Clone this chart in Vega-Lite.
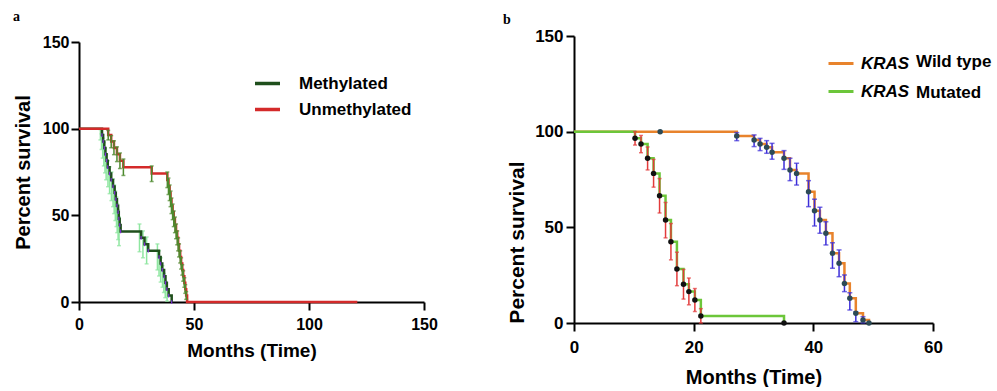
{
  "$schema": "https://vega.github.io/schema/vega-lite/v6.json",
  "background": "white",
  "padding": {"left": 13, "top": 10, "right": 0, "bottom": 0},
  "spacing": 150,
  "bounds": "flush",
  "config": {
    "view": {"stroke": null},
    "axis": {
      "grid": false,
      "domainColor": "black",
      "domainWidth": 2,
      "tickColor": "black",
      "tickWidth": 2,
      "tickSize": 8,
      "labelFont": "Liberation Sans",
      "labelFontWeight": "bold",
      "labelColor": "black",
      "labelFlush": false,
      "labelOverlap": false,
      "titleFont": "Liberation Sans",
      "titleFontWeight": "bold",
      "titleColor": "black"
    },
    "title": {"font": "Liberation Serif", "fontWeight": "bold", "fontSize": 14, "color": "black", "anchor": "start", "frame": "group"}
  },
  "datasets": {
    "a_line": [
      {"series": "Methylated", "t": 0, "y": 100},
      {"series": "Methylated", "t": 10, "y": 96.3},
      {"series": "Methylated", "t": 10.5, "y": 92.6},
      {"series": "Methylated", "t": 11, "y": 88.9},
      {"series": "Methylated", "t": 11.5, "y": 85.2},
      {"series": "Methylated", "t": 12, "y": 81.5},
      {"series": "Methylated", "t": 12.5, "y": 77.8},
      {"series": "Methylated", "t": 13.3, "y": 74.1},
      {"series": "Methylated", "t": 14, "y": 70.4},
      {"series": "Methylated", "t": 14.8, "y": 66.7},
      {"series": "Methylated", "t": 15.5, "y": 63},
      {"series": "Methylated", "t": 16, "y": 59.3},
      {"series": "Methylated", "t": 16.5, "y": 55.6},
      {"series": "Methylated", "t": 17, "y": 51.9},
      {"series": "Methylated", "t": 17.3, "y": 48.1},
      {"series": "Methylated", "t": 17.7, "y": 44.4},
      {"series": "Methylated", "t": 18.1, "y": 40.7},
      {"series": "Methylated", "t": 27, "y": 37},
      {"series": "Methylated", "t": 28.5, "y": 33.3},
      {"series": "Methylated", "t": 30.1, "y": 29.6},
      {"series": "Methylated", "t": 34.8, "y": 25.9},
      {"series": "Methylated", "t": 35.5, "y": 22.2},
      {"series": "Methylated", "t": 36.2, "y": 18.5},
      {"series": "Methylated", "t": 37, "y": 14.8},
      {"series": "Methylated", "t": 37.6, "y": 11.1},
      {"series": "Methylated", "t": 38.2, "y": 7.4},
      {"series": "Methylated", "t": 39, "y": 3.7},
      {"series": "Methylated", "t": 40.3, "y": 0},
      {"series": "Unmethylated", "t": 0, "y": 100},
      {"series": "Unmethylated", "t": 12.7, "y": 96.3},
      {"series": "Unmethylated", "t": 14, "y": 92.6},
      {"series": "Unmethylated", "t": 15.2, "y": 88.9},
      {"series": "Unmethylated", "t": 16.5, "y": 85.2},
      {"series": "Unmethylated", "t": 17.8, "y": 81.5},
      {"series": "Unmethylated", "t": 19.3, "y": 77.8},
      {"series": "Unmethylated", "t": 31.6, "y": 74.1},
      {"series": "Unmethylated", "t": 38.4, "y": 70.4},
      {"series": "Unmethylated", "t": 38.9, "y": 66.7},
      {"series": "Unmethylated", "t": 39.4, "y": 63},
      {"series": "Unmethylated", "t": 39.8, "y": 59.3},
      {"series": "Unmethylated", "t": 40.2, "y": 55.6},
      {"series": "Unmethylated", "t": 40.7, "y": 51.9},
      {"series": "Unmethylated", "t": 41.2, "y": 48.1},
      {"series": "Unmethylated", "t": 41.7, "y": 44.4},
      {"series": "Unmethylated", "t": 42.2, "y": 40.7},
      {"series": "Unmethylated", "t": 42.7, "y": 37},
      {"series": "Unmethylated", "t": 43.1, "y": 33.3},
      {"series": "Unmethylated", "t": 43.5, "y": 29.6},
      {"series": "Unmethylated", "t": 44, "y": 25.9},
      {"series": "Unmethylated", "t": 44.4, "y": 22.2},
      {"series": "Unmethylated", "t": 44.9, "y": 18.5},
      {"series": "Unmethylated", "t": 45.3, "y": 14.8},
      {"series": "Unmethylated", "t": 45.8, "y": 11.1},
      {"series": "Unmethylated", "t": 46.2, "y": 7.4},
      {"series": "Unmethylated", "t": 46.6, "y": 3.7},
      {"series": "Unmethylated", "t": 47, "y": 0},
      {"series": "Unmethylated", "t": 121, "y": 0}
    ],
    "a_err": [
      {"series": "Methylated", "t": 9.3, "y": 93.5, "y2": 99.5},
      {"series": "Methylated", "t": 9.8, "y": 88, "y2": 97},
      {"series": "Methylated", "t": 10.3, "y": 83, "y2": 94.5},
      {"series": "Methylated", "t": 10.8, "y": 78.5, "y2": 92},
      {"series": "Methylated", "t": 11.3, "y": 74.5, "y2": 88.5},
      {"series": "Methylated", "t": 11.8, "y": 70.5, "y2": 85},
      {"series": "Methylated", "t": 12.6, "y": 66.5, "y2": 81.5},
      {"series": "Methylated", "t": 13.3, "y": 62.5, "y2": 78},
      {"series": "Methylated", "t": 14.1, "y": 58.5, "y2": 75},
      {"series": "Methylated", "t": 14.8, "y": 55, "y2": 71},
      {"series": "Methylated", "t": 15.3, "y": 51, "y2": 67.5},
      {"series": "Methylated", "t": 15.8, "y": 47, "y2": 64},
      {"series": "Methylated", "t": 16.3, "y": 43.5, "y2": 60.5},
      {"series": "Methylated", "t": 16.6, "y": 40, "y2": 56.5},
      {"series": "Methylated", "t": 17, "y": 36, "y2": 53},
      {"series": "Methylated", "t": 17.4, "y": 32.5, "y2": 49},
      {"series": "Methylated", "t": 26.3, "y": 29, "y2": 45},
      {"series": "Methylated", "t": 27.8, "y": 25.5, "y2": 41},
      {"series": "Methylated", "t": 29.4, "y": 22, "y2": 37.5},
      {"series": "Methylated", "t": 34.1, "y": 18.5, "y2": 33.5},
      {"series": "Methylated", "t": 34.8, "y": 15, "y2": 29.5},
      {"series": "Methylated", "t": 35.5, "y": 11.5, "y2": 25.5},
      {"series": "Methylated", "t": 36.3, "y": 8.5, "y2": 21},
      {"series": "Methylated", "t": 36.9, "y": 5.5, "y2": 16.5},
      {"series": "Methylated", "t": 37.5, "y": 2.5, "y2": 12},
      {"series": "Methylated", "t": 38.3, "y": 0.5, "y2": 7},
      {"series": "Unmethylated", "t": 12.7, "y": 93.5, "y2": 99},
      {"series": "Unmethylated", "t": 14, "y": 89, "y2": 96},
      {"series": "Unmethylated", "t": 15.2, "y": 85, "y2": 93},
      {"series": "Unmethylated", "t": 16.5, "y": 81, "y2": 89.5},
      {"series": "Unmethylated", "t": 17.8, "y": 77, "y2": 86},
      {"series": "Unmethylated", "t": 19.3, "y": 73, "y2": 82.5},
      {"series": "Unmethylated", "t": 31.6, "y": 69.5, "y2": 78.5},
      {"series": "Unmethylated", "t": 38.4, "y": 66, "y2": 75},
      {"series": "Unmethylated", "t": 38.9, "y": 62, "y2": 71.5},
      {"series": "Unmethylated", "t": 39.4, "y": 58.5, "y2": 67.5},
      {"series": "Unmethylated", "t": 39.8, "y": 55, "y2": 64},
      {"series": "Unmethylated", "t": 40.2, "y": 51, "y2": 60},
      {"series": "Unmethylated", "t": 40.7, "y": 47.5, "y2": 56.5},
      {"series": "Unmethylated", "t": 41.2, "y": 43.5, "y2": 52.5},
      {"series": "Unmethylated", "t": 41.7, "y": 40, "y2": 49},
      {"series": "Unmethylated", "t": 42.2, "y": 36.5, "y2": 45},
      {"series": "Unmethylated", "t": 42.7, "y": 33, "y2": 41},
      {"series": "Unmethylated", "t": 43.1, "y": 29.5, "y2": 37},
      {"series": "Unmethylated", "t": 43.5, "y": 26, "y2": 33.5},
      {"series": "Unmethylated", "t": 44, "y": 22.5, "y2": 29.5},
      {"series": "Unmethylated", "t": 44.4, "y": 19, "y2": 25.5},
      {"series": "Unmethylated", "t": 44.9, "y": 15.5, "y2": 21.5},
      {"series": "Unmethylated", "t": 45.3, "y": 12, "y2": 18},
      {"series": "Unmethylated", "t": 45.8, "y": 8.5, "y2": 14},
      {"series": "Unmethylated", "t": 46.2, "y": 5, "y2": 10},
      {"series": "Unmethylated", "t": 46.6, "y": 1.5, "y2": 6}
    ],
    "b_line": [
      {"series": "KRAS Wild type", "t": 0, "y": 100},
      {"series": "KRAS Wild type", "t": 27.2, "y": 97.7},
      {"series": "KRAS Wild type", "t": 30.1, "y": 95.6},
      {"series": "KRAS Wild type", "t": 31.1, "y": 93.6},
      {"series": "KRAS Wild type", "t": 32.2, "y": 91.8},
      {"series": "KRAS Wild type", "t": 33.1, "y": 89.2},
      {"series": "KRAS Wild type", "t": 35.1, "y": 86.1},
      {"series": "KRAS Wild type", "t": 36.1, "y": 80},
      {"series": "KRAS Wild type", "t": 37.2, "y": 78.2},
      {"series": "KRAS Wild type", "t": 39.2, "y": 68.6},
      {"series": "KRAS Wild type", "t": 40.2, "y": 58.7},
      {"series": "KRAS Wild type", "t": 41.1, "y": 53.8},
      {"series": "KRAS Wild type", "t": 42.1, "y": 46.9},
      {"series": "KRAS Wild type", "t": 43.2, "y": 36.4},
      {"series": "KRAS Wild type", "t": 44.3, "y": 31.2},
      {"series": "KRAS Wild type", "t": 45.2, "y": 20.7},
      {"series": "KRAS Wild type", "t": 46.1, "y": 12.9},
      {"series": "KRAS Wild type", "t": 47.1, "y": 5.1},
      {"series": "KRAS Wild type", "t": 48.3, "y": 1.6},
      {"series": "KRAS Wild type", "t": 49.3, "y": 0},
      {"series": "KRAS Mutated", "t": 0, "y": 100},
      {"series": "KRAS Mutated", "t": 10.2, "y": 96.5},
      {"series": "KRAS Mutated", "t": 11.2, "y": 93.6},
      {"series": "KRAS Mutated", "t": 12.3, "y": 86.1},
      {"series": "KRAS Mutated", "t": 13.3, "y": 78.2},
      {"series": "KRAS Mutated", "t": 14.3, "y": 66.5},
      {"series": "KRAS Mutated", "t": 15.3, "y": 53.8},
      {"series": "KRAS Mutated", "t": 16.2, "y": 42.5},
      {"series": "KRAS Mutated", "t": 17.2, "y": 28.2},
      {"series": "KRAS Mutated", "t": 18.3, "y": 20.2},
      {"series": "KRAS Mutated", "t": 19.2, "y": 16.4},
      {"series": "KRAS Mutated", "t": 20.2, "y": 12},
      {"series": "KRAS Mutated", "t": 21.2, "y": 3.7},
      {"series": "KRAS Mutated", "t": 35.1, "y": 0}
    ],
    "b_err": [
      {"series": "KRAS Wild type", "t": 27.2, "y": 95.3, "y2": 99.5},
      {"series": "KRAS Wild type", "t": 30.1, "y": 92.2, "y2": 98.3},
      {"series": "KRAS Wild type", "t": 31.1, "y": 90.1, "y2": 96.5},
      {"series": "KRAS Wild type", "t": 32.2, "y": 88.7, "y2": 95.3},
      {"series": "KRAS Wild type", "t": 33.1, "y": 85.6, "y2": 93.9},
      {"series": "KRAS Wild type", "t": 35.1, "y": 80.3, "y2": 90.1},
      {"series": "KRAS Wild type", "t": 36.1, "y": 74.4, "y2": 86.1},
      {"series": "KRAS Wild type", "t": 37.2, "y": 72.1, "y2": 83.5},
      {"series": "KRAS Wild type", "t": 39.2, "y": 60.8, "y2": 74.4},
      {"series": "KRAS Wild type", "t": 40.2, "y": 50.7, "y2": 64.7},
      {"series": "KRAS Wild type", "t": 41.1, "y": 46.9, "y2": 60.5},
      {"series": "KRAS Wild type", "t": 42.1, "y": 40.8, "y2": 52.9},
      {"series": "KRAS Wild type", "t": 43.2, "y": 28.6, "y2": 42},
      {"series": "KRAS Wild type", "t": 44.3, "y": 24.2, "y2": 38.2},
      {"series": "KRAS Wild type", "t": 45.2, "y": 16.4, "y2": 25.1},
      {"series": "KRAS Wild type", "t": 46.1, "y": 6.8, "y2": 15.8},
      {"series": "KRAS Wild type", "t": 47.1, "y": 0.7, "y2": 5.9},
      {"series": "KRAS Wild type", "t": 48.3, "y": 0, "y2": 3.3},
      {"series": "KRAS Mutated", "t": 10.2, "y": 93, "y2": 100},
      {"series": "KRAS Mutated", "t": 11.2, "y": 89, "y2": 98},
      {"series": "KRAS Mutated", "t": 12.3, "y": 80, "y2": 92},
      {"series": "KRAS Mutated", "t": 13.3, "y": 71, "y2": 85.5},
      {"series": "KRAS Mutated", "t": 14.3, "y": 57.5, "y2": 75.5},
      {"series": "KRAS Mutated", "t": 15.3, "y": 44.5, "y2": 63},
      {"series": "KRAS Mutated", "t": 16.2, "y": 33, "y2": 52},
      {"series": "KRAS Mutated", "t": 17.2, "y": 19.5, "y2": 37},
      {"series": "KRAS Mutated", "t": 18.3, "y": 12.5, "y2": 28},
      {"series": "KRAS Mutated", "t": 19.2, "y": 9.5, "y2": 23.5},
      {"series": "KRAS Mutated", "t": 20.2, "y": 6, "y2": 18},
      {"series": "KRAS Mutated", "t": 21.2, "y": 0, "y2": 7.5}
    ],
    "b_dot": [
      {"series": "KRAS Wild type", "kind": "Wild type", "t": 14.4, "y": 100},
      {"series": "KRAS Wild type", "kind": "Wild type", "t": 27.2, "y": 97.7},
      {"series": "KRAS Wild type", "kind": "Wild type", "t": 30.1, "y": 95.6},
      {"series": "KRAS Wild type", "kind": "Wild type", "t": 31.1, "y": 93.6},
      {"series": "KRAS Wild type", "kind": "Wild type", "t": 32.2, "y": 91.8},
      {"series": "KRAS Wild type", "kind": "Wild type", "t": 33.1, "y": 89.2},
      {"series": "KRAS Wild type", "kind": "Wild type", "t": 35.1, "y": 86.1},
      {"series": "KRAS Wild type", "kind": "Wild type", "t": 36.1, "y": 80},
      {"series": "KRAS Wild type", "kind": "Wild type", "t": 37.2, "y": 78.2},
      {"series": "KRAS Wild type", "kind": "Wild type", "t": 39.2, "y": 68.6},
      {"series": "KRAS Wild type", "kind": "Wild type", "t": 40.2, "y": 58.7},
      {"series": "KRAS Wild type", "kind": "Wild type", "t": 41.1, "y": 53.8},
      {"series": "KRAS Wild type", "kind": "Wild type", "t": 42.1, "y": 46.9},
      {"series": "KRAS Wild type", "kind": "Wild type", "t": 43.2, "y": 36.4},
      {"series": "KRAS Wild type", "kind": "Wild type", "t": 44.3, "y": 31.2},
      {"series": "KRAS Wild type", "kind": "Wild type", "t": 45.2, "y": 20.7},
      {"series": "KRAS Wild type", "kind": "Wild type", "t": 46.1, "y": 12.9},
      {"series": "KRAS Wild type", "kind": "Wild type", "t": 47.1, "y": 5.1},
      {"series": "KRAS Wild type", "kind": "Wild type", "t": 48.3, "y": 1.6},
      {"series": "KRAS Wild type", "kind": "Wild type", "t": 49.3, "y": 0},
      {"series": "KRAS Mutated", "kind": "Mutated", "t": 10.2, "y": 96.5},
      {"series": "KRAS Mutated", "kind": "Mutated", "t": 11.2, "y": 93.6},
      {"series": "KRAS Mutated", "kind": "Mutated", "t": 12.3, "y": 86.1},
      {"series": "KRAS Mutated", "kind": "Mutated", "t": 13.3, "y": 78.2},
      {"series": "KRAS Mutated", "kind": "Mutated", "t": 14.3, "y": 66.5},
      {"series": "KRAS Mutated", "kind": "Mutated", "t": 15.3, "y": 53.8},
      {"series": "KRAS Mutated", "kind": "Mutated", "t": 16.2, "y": 42.5},
      {"series": "KRAS Mutated", "kind": "Mutated", "t": 17.2, "y": 28.2},
      {"series": "KRAS Mutated", "kind": "Mutated", "t": 18.3, "y": 20.2},
      {"series": "KRAS Mutated", "kind": "Mutated", "t": 19.2, "y": 16.4},
      {"series": "KRAS Mutated", "kind": "Mutated", "t": 20.2, "y": 12},
      {"series": "KRAS Mutated", "kind": "Mutated", "t": 21.2, "y": 3.7},
      {"series": "KRAS Mutated", "kind": "Mutated", "t": 35.1, "y": 0}
    ]
  },
  "hconcat": [
    {
      "width": 345,
      "height": 266,
      "title": {"text": "a", "dx": -66, "offset": 10},
      "encoding": {
        "x": {"field": "t", "type": "quantitative", "scale": {"domain": [0, 150], "nice": false},
              "axis": {"title": "Months (Time)", "values": [0, 50, 100, 150], "labelFontSize": 16, "titleFontSize": 19, "labelPadding": 6, "titlePadding": 9}},
        "y": {"field": "y", "type": "quantitative", "scale": {"domain": [0, 150], "nice": false, "range": [266, 6]},
              "axis": {"title": "Percent survival", "values": [0, 50, 100, 150], "labelFontSize": 16, "titleFontSize": 20, "labelPadding": 2, "titlePadding": 9}}
      },
      "layer": [
        {
          "data": {"name": "a_err"},
          "transform": [{"filter": "datum.series === 'Methylated'"}],
          "mark": {"type": "errorbar", "ticks": {"size": 4}, "color": "#8ee6a0", "thickness": 1.5},
          "encoding": {"y2": {"field": "y2"}}
        },
        {
          "data": {"name": "a_line"},
          "mark": {"type": "line", "interpolate": "step-after", "strokeWidth": 2.5},
          "encoding": {
            "color": {"field": "series", "type": "nominal",
              "scale": {"domain": ["Methylated", "Unmethylated"], "range": ["#1f4f1c", "#d42a2a"]},
              "legend": {"title": null, "orient": "none", "legendX": 174, "legendY": 33,
                "symbolType": "stroke", "symbolSize": 625, "symbolStrokeWidth": 3.5,
                "labelFont": "Liberation Sans", "labelFontWeight": "bold", "labelFontSize": 17,
                "labelColor": "black", "labelOffset": 17, "rowPadding": 3}}
          }
        },
        {
          "data": {"name": "a_err"},
          "transform": [{"filter": "datum.series === 'Unmethylated'"}],
          "mark": {"type": "errorbar", "ticks": {"size": 4}, "color": "#4d8a2e", "thickness": 1.5},
          "encoding": {"y2": {"field": "y2"}}
        },
        {
          "data": {"name": "a_line"},
          "transform": [{"filter": "datum.series === 'Methylated' && datum.t > 0"}],
          "mark": {"type": "point", "shape": "M0,-1L0,1", "size": 14, "filled": false, "stroke": "#7b2fd6", "strokeWidth": 1.2, "opacity": 1}
        }
      ]
    },
    {
      "width": 359,
      "height": 287,
      "title": {"text": "b", "dx": -71, "offset": 0},
      "encoding": {
        "x": {"field": "t", "type": "quantitative", "scale": {"domain": [0, 60], "nice": false},
              "axis": {"title": "Months (Time)", "values": [0, 20, 40, 60], "labelFontSize": 17, "titleFontSize": 20, "labelPadding": 8, "titlePadding": 12}},
        "y": {"field": "y", "type": "quantitative", "scale": {"domain": [0, 150], "nice": false},
              "axis": {"title": "Percent survival", "values": [0, 50, 100, 150], "labelFontSize": 17, "titleFontSize": 21, "labelPadding": 3, "titlePadding": 7, "titleY": 206}}
      },
      "layer": [
        {
          "data": {"name": "b_line"},
          "mark": {"type": "line", "interpolate": "step-after", "strokeWidth": 2.5},
          "encoding": {
            "color": {"field": "series", "type": "nominal",
              "scale": {"domain": ["KRAS Wild type", "KRAS Mutated"], "range": ["#e8832c", "#6cc63a"]},
              "legend": {"title": null, "orient": "none", "legendX": 253, "legendY": 13.5,
                "symbolType": "stroke", "symbolSize": 625, "symbolStrokeWidth": 3,
                "labelExpr": "'KRAS'",
                "labelFont": "Liberation Sans", "labelFontWeight": "bold", "labelFontStyle": "italic", "labelFontSize": 17,
                "labelColor": "black", "labelOffset": 6, "rowPadding": 6}}
          }
        },
        {
          "data": {"name": "b_err"},
          "transform": [{"filter": "datum.series === 'KRAS Mutated'"}],
          "mark": {"type": "errorbar", "ticks": {"size": 4}, "color": "#e23b3b", "thickness": 1.5},
          "encoding": {"y2": {"field": "y2"}}
        },
        {
          "data": {"name": "b_err"},
          "transform": [{"filter": "datum.series === 'KRAS Wild type'"}],
          "mark": {"type": "errorbar", "ticks": {"size": 5}, "color": "#3c2ed8", "thickness": 1.5},
          "encoding": {"y2": {"field": "y2"}}
        },
        {
          "data": {"name": "b_dot"},
          "transform": [{"filter": "datum.series === 'KRAS Mutated'"}],
          "mark": {"type": "point", "filled": true, "size": 30, "color": "#111111", "opacity": 1}
        },
        {
          "data": {"name": "b_dot"},
          "transform": [{"filter": "datum.series === 'KRAS Wild type'"}],
          "mark": {"type": "point", "filled": true, "size": 30, "color": "#2c4a56", "opacity": 1},
          "encoding": {
            "shape": {"field": "kind", "type": "nominal",
              "scale": {"domain": ["Wild type", "Mutated"], "range": ["circle", "circle"]},
              "legend": {"title": null, "orient": "none", "legendX": 317, "legendY": 13.5,
                "symbolSize": 625, "symbolOpacity": 0, "symbolStrokeWidth": 0,
                "labelFont": "Liberation Sans", "labelFontWeight": "bold", "labelFontSize": 17,
                "labelColor": "black", "labelOffset": 0, "rowPadding": 6}}
          }
        }
      ]
    }
  ],
  "resolve": {
    "scale": {"color": "independent", "shape": "independent", "x": "independent", "y": "independent"},
    "legend": {"color": "independent", "shape": "independent"}
  }
}
